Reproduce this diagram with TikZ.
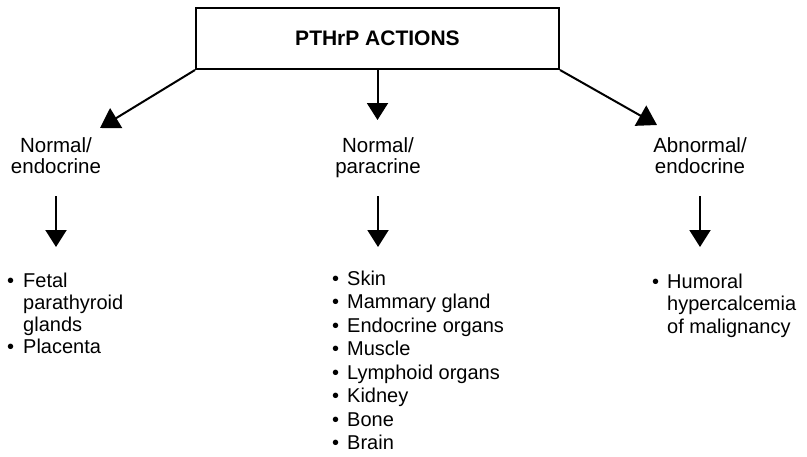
\documentclass[tikz,border=0pt]{standalone}
\usepackage{fontspec}
\setmainfont{Liberation Sans}
\usetikzlibrary{arrows.meta}

\begin{document}
\begin{tikzpicture}[x=1pt,y=-1pt,
  conn/.style={line width=2pt, -{Triangle[width=21pt,length=17pt]}},
  slant/.style={line width=2pt, -{Triangle[width=23pt,length=19pt]}},
  head/.style={font=\fontsize{20.5}{21}\selectfont, inner sep=0pt, anchor=base},
  itemlist/.style={inner sep=0pt, anchor=base west},
  titlebox/.style={draw, line width=2pt, minimum width=363pt, minimum height=61pt,
    inner sep=0pt, font=\fontsize{21}{24}\bfseries\selectfont}]
\useasboundingbox (0,0) rectangle (807,456);

% title box
\node[titlebox] (title) at (377.5,38.5) {PTHrP ACTIONS};

% arrow tips below the title box
\coordinate (tipL) at (100,128);
\coordinate (tipM) at (377.5,120);
\coordinate (tipR) at (657,125);

\draw[slant] (title.south west) -- (tipL);
\draw[conn] (title.south) -- (tipM);
\draw[slant] (title.south east) -- (tipR);

% category headings
\node[head] (hL) at (56,152) {\begin{tabular}[t]{@{}c@{}}Normal/\\endocrine\end{tabular}};
\node[head] (hM) at (378,152) {\begin{tabular}[t]{@{}c@{}}Normal/\\paracrine\end{tabular}};
\node[head] (hR) at (700,152) {\begin{tabular}[t]{@{}c@{}}Abnormal/\\endocrine\end{tabular}};

% arrows from headings to lists
\coordinate (aL1) at (56,196);  \coordinate (aL2) at (56,247);
\coordinate (aM1) at (378,196); \coordinate (aM2) at (378,247);
\coordinate (aR1) at (700,196); \coordinate (aR2) at (700,247);
\draw[conn] (aL1) -- (aL2);
\draw[conn] (aM1) -- (aM2);
\draw[conn] (aR1) -- (aR2);

% bulleted lists
\node[itemlist, font=\fontsize{20}{22.3}\selectfont] (lL) at (7,287)
  {\begin{tabular}[t]{@{}l@{\hspace{9pt}}l@{}}
   \textbullet & Fetal\\
               & parathyroid\\
               & glands\\
   \textbullet & Placenta
   \end{tabular}};
\node[itemlist, font=\fontsize{20}{23.57}\selectfont] (lM) at (332,285)
  {\begin{tabular}[t]{@{}l@{\hspace{8pt}}l@{}}
   \textbullet & Skin\\
   \textbullet & Mammary gland\\
   \textbullet & Endocrine organs\\
   \textbullet & Muscle\\
   \textbullet & Lymphoid organs\\
   \textbullet & Kidney\\
   \textbullet & Bone\\
   \textbullet & Brain
   \end{tabular}};
\node[itemlist, font=\fontsize{20}{22.5}\selectfont] (lR) at (652,288)
  {\begin{tabular}[t]{@{}l@{\hspace{8pt}}l@{}}
   \textbullet & Humoral\\
               & hypercalcemia\\
               & of malignancy
   \end{tabular}};
\end{tikzpicture}
\end{document}
